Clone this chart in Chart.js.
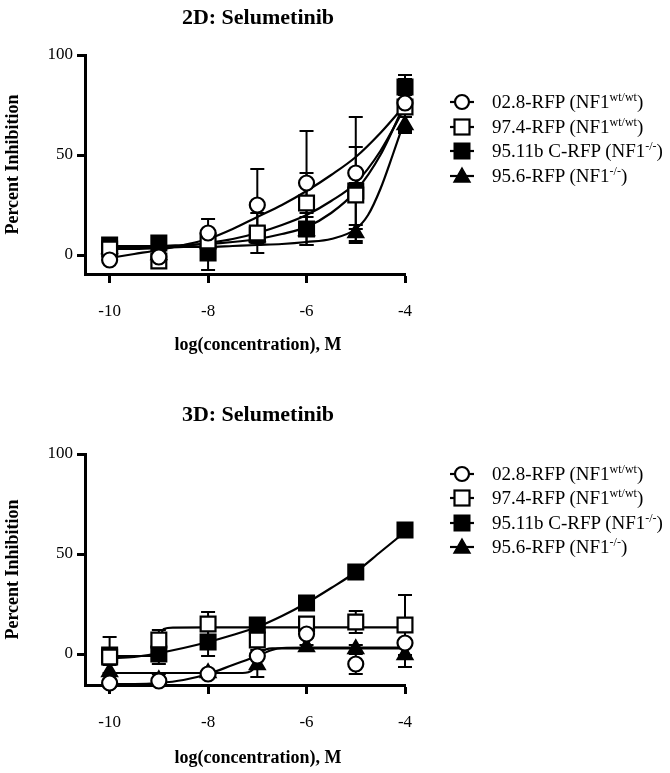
<!DOCTYPE html>
<html>
<head>
<meta charset="utf-8">
<script src="https://cdn.jsdelivr.net/npm/chart.js@4.4.1/dist/chart.umd.min.js"></script>
<style>
  body { margin: 0; background: #fff; width: 670px; height: 773px; position: relative; overflow: hidden;
         font-family: "Liberation Serif", "Times New Roman", serif; color: #000; }
  canvas { position: absolute; left: 0; }
  .title { position: absolute; left: 108px; width: 300px; text-align: center; font-weight: bold; font-size: 22px; line-height: 26px; }
  .xtitle { position: absolute; left: 108px; width: 300px; text-align: center; font-weight: bold; font-size: 18px; line-height: 22px; }
  .legend { position: absolute; left: 450px; }
  .row { position: absolute; left: 0; height: 24px; white-space: nowrap; font-size: 19px; line-height: 24px; }
  .row svg { position: absolute; left: 0; top: 0; }
  .row span.lbl { position: absolute; left: 42px; top: 0; }
  .row sup { font-size: 12px; vertical-align: 0; position: relative; top: -7px; }
</style>
</head>
<body>
<canvas id="chart2d" width="670" height="386" style="top:0"></canvas>
<canvas id="chart3d" width="670" height="387" style="top:386px"></canvas>
<div class="title" style="top:4px">2D: Selumetinib</div>
<div class="xtitle" style="top:333px">log(concentration), M</div>
<div class="title" style="top:401px">3D: Selumetinib</div>
<div class="xtitle" style="top:746px">log(concentration), M</div>
<div class="legend" id="legend2d" style="top:90px"></div>
<div class="legend" id="legend3d" style="top:462px"></div>
<script>
// concentrations (log M) and axis ticks
const concX = [-10, -9, -8, -7, -6, -5, -4];
const xTicks = [-10, -8, -6, -4];
const yTicks = [0, 50, 100];

// legend labels
const legendNames = ['02.8-RFP (NF1', '97.4-RFP (NF1', '95.11b C-RFP (NF1', '95.6-RFP (NF1'];
const legendSups = ['wt/wt', 'wt/wt', '-/-', '-/-'];

// 2D: measured means and SD
const d2Wt28 = [-2.5, -1, 11, 25, 36, 41, 76];
const d2Wt28Sd = [1.5, 2, 7, 18, 26, 28, 14];
const d2Wt74 = [3, -3, 7, 11, 26, 30, 74];
const d2Wt74Sd = [2, 2, 3, 10, 15, 24, 13];
const d2Nf95b = [5, 6, 1, 10, 13, 32, 84];
const d2Nf95bSd = [2, 2, 8.5, 3, 8, 4, 4];
const d2Nf956 = [3, 0, 6, 9, 12, 11, 65];
const d2Nf956Sd = [2, 2, 3, 3, 7, 4, 4];

// 2D: fitted curves
const fit2X = [-10, -9.5, -9, -8.5, -8, -7.5, -7, -6.5, -6, -5.5, -5, -4.5, -4];
const fit2Wt28 = [-1.5, 0.5, 2.5, 5, 8, 13, 19, 25, 32, 40, 49, 61, 75];
const fit2Wt74 = [3, 3, 3.5, 4.5, 6, 8, 11, 15, 20, 27, 36, 52, 74];
const fit2Nf95b = [4.5, 4.5, 4.5, 5, 5.5, 6.5, 8, 10.5, 14, 21, 32, 50, 76];
const fit2X956 = [-10, -9.5, -9, -8.5, -8, -7.5, -7, -6.5, -6, -5.5, -5, -4.75, -4.5, -4.25, -4];
const fit2Nf956 = [3.5, 3.5, 3.5, 4, 4, 4.5, 5, 5.5, 6.5, 8, 13, 20, 33, 50, 68];

// 3D: measured means and SD
const d3Wt28 = [-14.5, -13.5, -10, -1, 10, -5, 5.5];
const d3Wt28Sd = [2, 1, 1, 1, 2, 5, 2];
const d3Wt74 = [-1.5, 7, 15, 7, 15, 16, 14.5];
const d3Wt74Sd = [4, 5, 6, 5, 2, 5.5, 15];
const d3Nf95b = [-0.5, 0, 6, 14.5, 25.5, 41, 62];
const d3Nf95bSd = [9, 5, 7, 1, 1, 1, 1];
const d3Nf956 = [-9, -13, -9.5, -5.5, 3.5, 2.5, -0.5];
const d3Nf956Sd = [4, 3, 1, 6, 1, 2, 6];

// 3D: fitted curves
const fit3X28 = [-10, -9.5, -9, -8.5, -8, -7.5, -7, -6.7, -6.5, -6, -4];
const fit3Wt28 = [-15, -15, -14.5, -13, -10, -5.5, -1, 2, 3, 3.2, 3.2];
const fit3X74 = [-10, -9.5, -9.1, -9, -8.9, -8.7, -8, -4];
const fit3Wt74 = [-1, -1, -1, 6, 12.5, 13.2, 13.3, 13.3];
const fit3X95b = [-10, -9.5, -9, -8.5, -8, -7.5, -7, -6.5, -6, -5.5, -5, -4.5, -4];
const fit3Nf95b = [-2, -1.5, 0.5, 3, 6, 9.5, 13.5, 19, 25.5, 33, 41, 51, 61];
const fit3X956 = [-10, -8, -7.3, -7.1, -7, -6.9, -6.7, -4];
const fit3Nf956 = [-9.5, -9.5, -9.5, -8, -4, 1, 2.8, 2.8];

const pts = (xs, ys) => xs.map((x, i) => ({ x: x, y: ys[i] }));

const markerStyles = [
  { pointStyle: 'circle', radius: 7.5, fill: '#fff' },
  { pointStyle: 'rect', radius: 10.5, fill: '#fff' },
  { pointStyle: 'rect', radius: 10.5, fill: '#000' },
  { pointStyle: 'triangle', radius: 8.5, fill: '#000' },
];

// error bars drawn under the markers
const errorBars = {
  id: 'errorBars',
  beforeDatasetsDraw(chart) {
    const ctx = chart.ctx, xs = chart.scales.x, ys = chart.scales.y;
    ctx.save();
    ctx.strokeStyle = '#000';
    ctx.lineWidth = 2;
    chart.data.datasets.forEach((ds) => {
      if (!ds.sd) return;
      ds.data.forEach((p, i) => {
        const e = ds.sd[i];
        if (!e) return;
        const px = xs.getPixelForValue(p.x);
        const top = ys.getPixelForValue(p.y + e);
        const bot = ys.getPixelForValue(p.y - e);
        ctx.beginPath();
        ctx.moveTo(px, top); ctx.lineTo(px, bot);
        ctx.moveTo(px - 7, top); ctx.lineTo(px + 7, top);
        ctx.moveTo(px - 7, bot); ctx.lineTo(px + 7, bot);
        ctx.stroke();
      });
    });
    ctx.restore();
  }
};

function makeChart(id, canvasH, plotTop, plotBottom, yMin, means, sds, curves) {
  const datasets = [];
  means.forEach((m, k) => {
    const st = markerStyles[k];
    datasets.push({
      data: pts(concX, m),
      sd: sds[k],
      showLine: false,
      pointStyle: st.pointStyle,
      pointRadius: st.radius,
      pointBackgroundColor: st.fill,
      pointBorderColor: '#000',
      pointBorderWidth: 2.2,
      clip: false,
      order: 0,
    });
  });
  curves.forEach((c) => {
    datasets.push({
      data: pts(c[0], c[1]),
      showLine: true,
      borderColor: '#000',
      borderWidth: 2.2,
      pointRadius: 0,
      cubicInterpolationMode: 'monotone',
      clip: false,
      order: 1,
    });
  });

  return new Chart(document.getElementById(id), {
    type: 'scatter',
    data: { datasets: datasets },
    plugins: [errorBars],
    options: {
      responsive: false,
      animation: false,
      events: [],
      layout: { padding: { left: 0, top: plotTop, right: 670 - 405, bottom: 0 } },
      plugins: { legend: { display: false }, tooltip: { enabled: false } },
      scales: {
        x: {
          type: 'linear',
          min: -10.5,
          max: -4,
          afterFit: (s) => { s.height = canvasH - plotBottom; },
          afterBuildTicks: (s) => { s.ticks = xTicks.map((v) => ({ value: v })); },
          grid: { drawOnChartArea: false, drawTicks: true, tickLength: 9, tickWidth: 3, tickColor: '#000' },
          border: { display: true, color: '#000', width: 3 },
          ticks: { color: '#000', padding: 18, font: { family: 'Liberation Serif', size: 17 } },
        },
        y: {
          type: 'linear',
          min: yMin,
          max: 100,
          afterFit: (s) => { s.width = 85; },
          afterBuildTicks: (s) => { s.ticks = yTicks.map((v) => ({ value: v })); },
          grid: { drawOnChartArea: false, drawTicks: true, tickLength: 8, tickWidth: 3, tickColor: '#000' },
          border: { display: true, color: '#000', width: 3 },
          ticks: { color: '#000', padding: 4, font: { family: 'Liberation Serif', size: 17 } },
          title: {
            display: true,
            text: 'Percent Inhibition',
            color: '#000',
            padding: { top: 3, bottom: 0 },
            font: { family: 'Liberation Serif', size: 18, weight: 'bold' },
          },
        },
      },
    },
  });
}

makeChart('chart2d', 386, 55, 274, -9.5,
  [d2Wt28, d2Wt74, d2Nf95b, d2Nf956],
  [d2Wt28Sd, d2Wt74Sd, d2Nf95bSd, d2Nf956Sd],
  [[fit2X, fit2Wt28], [fit2X, fit2Wt74], [fit2X, fit2Nf95b], [fit2X956, fit2Nf956]]);

makeChart('chart3d', 387, 68, 299, -15.5,
  [d3Wt28, d3Wt74, d3Nf95b, d3Nf956],
  [d3Wt28Sd, d3Wt74Sd, d3Nf95bSd, d3Nf956Sd],
  [[fit3X28, fit3Wt28], [fit3X74, fit3Wt74], [fit3X95b, fit3Nf95b], [fit3X956, fit3Nf956]]);

// legend with superscripts
const markerSvg = [
  '<circle cx="12" cy="12" r="7" fill="#fff" stroke="#000" stroke-width="2.2"/>',
  '<rect x="4.5" y="4.5" width="15" height="15" fill="#fff" stroke="#000" stroke-width="2.2"/>',
  '<rect x="4.5" y="4.5" width="15" height="15" fill="#000" stroke="#000" stroke-width="2"/>',
  '<polygon points="12,4 20,18 4,18" fill="#000" stroke="#000" stroke-width="1.5"/>',
];
function buildLegend(id, spacing) {
  const el = document.getElementById(id);
  legendNames.forEach((name, i) => {
    const row = document.createElement('div');
    row.className = 'row';
    row.style.top = (i * spacing) + 'px';
    row.innerHTML = '<svg width="24" height="24"><line x1="0" y1="12" x2="24" y2="12" stroke="#000" stroke-width="2.2"/>' +
      markerSvg[i] + '</svg><span class="lbl">' + name + '<sup>' + legendSups[i] + '</sup>)</span>';
    el.appendChild(row);
  });
}
buildLegend('legend2d', 24.5);
buildLegend('legend3d', 24.4);
</script>
</body>
</html>
